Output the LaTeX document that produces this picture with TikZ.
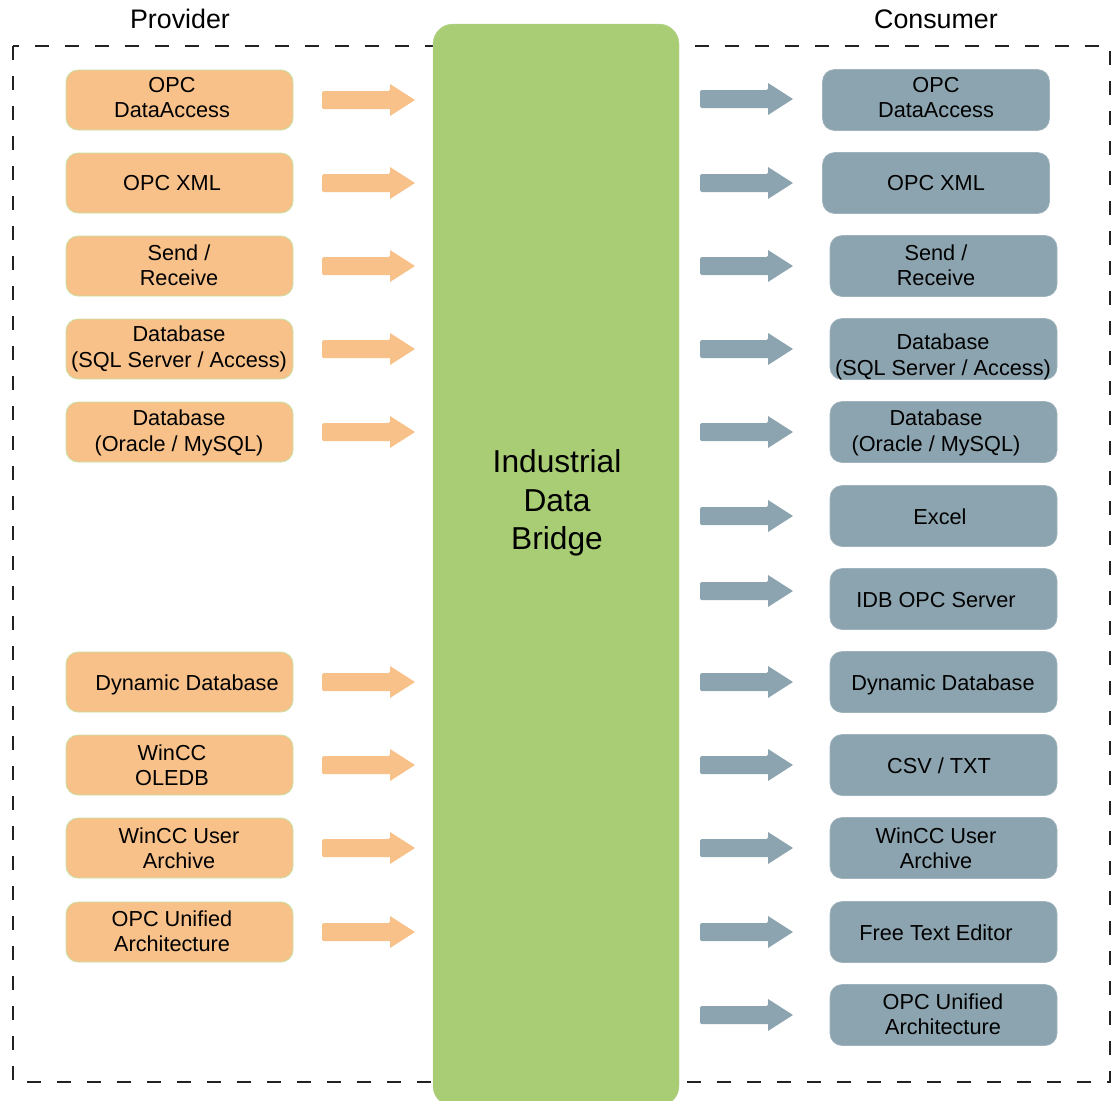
\documentclass[tikz,border=0pt]{standalone}
\usepackage{fontspec}
\setmainfont{Liberation Sans}
\definecolor{prov}{HTML}{F8C18A}
\definecolor{provedge}{HTML}{C8E0A2}
\definecolor{cons}{HTML}{8CA4AF}
\definecolor{consedge}{HTML}{9FB3BC}
\definecolor{bridge}{HTML}{A9CD75}
\definecolor{frame}{HTML}{222222}
\tikzset{
  pbox/.style={draw=provedge, line width=0.8pt, fill=prov, rounded corners=12pt,
    minimum width=227pt, minimum height=60pt, inner sep=0pt},
  cbox/.style={draw=consedge, line width=0.6pt, fill=cons, rounded corners=12pt,
    minimum width=227pt, minimum height=61pt, inner sep=0pt},
  txt/.style={align=center, font=\fontsize{21.7}{25.3}\selectfont, inner sep=0pt, text=black},
  title/.style={font=\fontsize{26.8}{32}\selectfont, inner sep=0pt},
  barrow/.pic={
    \fill[pic actions, rounded corners=1.5pt] (0,-9) -- (68,-9) [sharp corners] -- (68,-16) -- (93,0) -- (68,16) -- (68,9) [rounded corners=1.5pt] -- (0,9) -- cycle;
  }
}
\begin{document}
\begin{tikzpicture}[x=1pt,y=-1pt]
\useasboundingbox (0,0) rectangle (1120,1101);
% frame
\draw[frame, line width=1.8pt, dash pattern=on 14pt off 16pt] (13,46) rectangle (1110,1082);
% titles
\node[title] (tprov) at (180,19) {Provider};
\node[title] (tcons) at (936,19) {Consumer};
% bridge
\begin{scope}
\clip (0,0) rectangle (1120,1101);
\node[fill=bridge, draw=bridge!85!white, rounded corners=20pt, minimum width=246pt, minimum height=1082pt, inner sep=0pt] (idb) at (556,565) {};
\end{scope}
\node[font=\fontsize{31.7}{38.5}\selectfont, align=center, inner sep=0pt] (idbtxt) at (557,503) {Industrial\\Data\\Bridge};
% provider boxes
\foreach \y/\tx/\sh/\t [count=\i] in {
  100/172/2.5/{OPC\\DataAccess},
  183/172/-0.5/{OPC XML},
  266/179/1/{Send /\\Receive},
  349/179/0/{Database\\(SQL Server / Access)},
  432/179/-1/{Database\\(Oracle / MySQL)},
  682/187/-2.5/{Dynamic Database},
  765/172/0/{WinCC\\OLEDB},
  848/179/0/{WinCC User\\Archive},
  932/172/1/{OPC Unified\\Architecture}}{
  \node[pbox] (p\i) at (179.5,\y) {};
  \node[txt, yshift=\sh pt] (pt\i) at (\tx,\y) {\t};
  \pic[fill=prov] (pa\i) at (322,\y) {barrow};
}
% consumer boxes
\foreach \bx/\y/\tx/\sh/\t [count=\i] in {
  936/100/936/2.5/{OPC\\DataAccess},
  936/183/936/-0.5/{OPC XML},
  943.5/266/936/1/{Send /\\Receive},
  943.5/349/943/-8/{Database\\(SQL Server / Access)},
  943.5/432/936/-1/{Database\\(Oracle / MySQL)},
  943.5/516/940/-0.5/{Excel},
  943.5/599/936/-1/{IDB OPC Server},
  943.5/682/943/-2.5/{Dynamic Database},
  943.5/765/939/-0.5/{CSV / TXT},
  943.5/848/936/0/{WinCC User\\Archive},
  943.5/932/936/-0.5/{Free Text Editor},
  943.5/1015/943/1/{OPC Unified\\Architecture}}{
  \node[cbox] (c\i) at (\bx,\y) {};
  \node[txt, yshift=\sh pt] (ct\i) at (\tx,\y) {\t};
}
\foreach \y [count=\i] in {99,183,266,349,432,516,591,682,765,848,932,1015}{
  \pic[fill=cons] (ca\i) at (700,\y) {barrow};
}
\end{tikzpicture}
\end{document}
